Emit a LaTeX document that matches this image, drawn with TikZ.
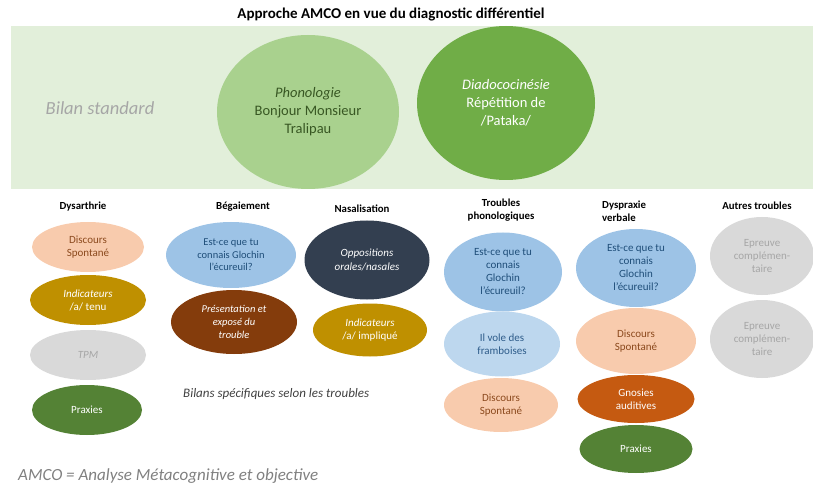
\documentclass[tikz,border=0pt]{standalone}
\usepackage{fontspec}
\setmainfont{Carlito}
\usetikzlibrary{shapes.geometric}

\definecolor{bandgreen}{HTML}{E2EFDA}
\definecolor{palegreen}{HTML}{A9D18E}
\definecolor{palegreentext}{HTML}{385723}
\definecolor{midgreen}{HTML}{70AD47}
\definecolor{darkgreen}{HTML}{548235}
\definecolor{peach}{HTML}{F8CBAD}
\definecolor{peachtext}{HTML}{8C4A1E}
\definecolor{gold}{HTML}{BF9000}
\definecolor{lightgrey}{HTML}{D9D9D9}
\definecolor{greytext}{HTML}{A6A6A6}
\definecolor{skyblue}{HTML}{9DC3E6}
\definecolor{skybluetext}{HTML}{1F4E79}
\definecolor{paleblue}{HTML}{BDD7EE}
\definecolor{palebluetext}{HTML}{2E5C8A}
\definecolor{rust}{HTML}{843C0C}
\definecolor{navy}{HTML}{333F50}
\definecolor{burnt}{HTML}{C55A11}

\begin{document}
\begin{tikzpicture}[
  x=1pt, y=-1pt,
  every node/.style={inner sep=0pt},
  wh/.style 2 args={minimum width=#1pt, minimum height=#2pt},
  blob/.style={ellipse, align=center, font=\fontsize{11}{13}\selectfont},
  bigblob/.style={ellipse, align=center, font=\fontsize{14.5}{18}\selectfont},
  head/.style={align=center, font=\bfseries\fontsize{10.8}{13}\selectfont}
  ]
  \useasboundingbox (0,0) rectangle (813,486);

  \node[font=\bfseries\fontsize{15}{17}\selectfont] (title) at (391,15) {Approche AMCO en vue du diagnostic différentiel};

  \fill[bandgreen] (11,26) rectangle (813,189);
  \node[font=\itshape\fontsize{18.5}{22}\selectfont, text=greytext] (standard) at (100,108) {Bilan standard};
  \node[bigblob, wh={182}{154}, fill=palegreen, text=palegreentext] (phono) at (308,112) {\textit{Phonologie}\\Bonjour Monsieur\\Tralipau};
  \node[bigblob, wh={178}{154}, fill=midgreen, text=white] (diado) at (506,103) {\textit{Diadococinésie}\\Répétition de\\/Pataka/};

  \node[head] (dysarthrie) at (83,207) {Dysarthrie};
  \node[head] (begaiement) at (243,207) {Bégaiement};
  \node[head] (nasal) at (362,209) {Nasalisation};
  \node[head] (troubles) at (501,210) {Troubles\\phonologiques};
  \node[head, align=left, anchor=west] (dyspraxie) at (602,211) {Dyspraxie\\verbale};
  \node[head] (autres) at (757,206) {Autres troubles};

  \node[blob, wh={112}{50}, fill=peach, text=peachtext] (dys1) at (88,247) {Discours\\Spontané};
  \node[blob, wh={116}{50}, fill=gold, text=white] (dys2) at (88,300) {\textit{Indicateurs}\\/a/ tenu};
  \node[blob, wh={116}{50}, fill=lightgrey, text=greytext] (dys3) at (88,355) {\textit{TPM}};
  \node[blob, wh={110}{50}, fill=darkgreen, text=white] (dys4) at (87,410) {Praxies};

  \node[blob, wh={130}{66}, fill=skyblue, text=skybluetext, font=\fontsize{10.5}{12.5}\selectfont] (beg1) at (231,255) {Est-ce que tu\\connais Glochin\\l’écureuil?};
  \node[blob, wh={126}{64}, fill=rust, text=white, font=\itshape\fontsize{10.5}{13}\selectfont] (beg2) at (234,322) {Présentation et\\exposé du\\trouble};

  \node[blob, wh={125}{79}, fill=navy, text=white, font=\itshape\fontsize{11}{14}\selectfont] (nas1) at (367,260) {Oppositions\\orales/nasales};
  \node[blob, wh={114}{53}, fill=gold, text=white] (nas2) at (370,330) {\textit{Indicateurs}\\/a/ impliqué};

  \node[blob, wh={118}{79}, fill=skyblue, text=skybluetext] (tph1) at (503,272) {Est-ce que tu\\connais\\Glochin\\l’écureuil?};
  \node[blob, wh={116}{65}, fill=paleblue, text=palebluetext] (tph2) at (502,344) {Il vole des\\framboises};
  \node[blob, wh={114}{54}, fill=peach, text=peachtext] (tph3) at (501,405) {Discours\\Spontané};

  \node[blob, wh={120}{78}, fill=skyblue, text=skybluetext] (dvb1) at (636,268) {Est-ce que tu\\connais\\Glochin\\l’écureuil?};
  \node[blob, wh={120}{66}, fill=peach, text=peachtext] (dvb2) at (636,341) {Discours\\Spontané};
  \node[blob, wh={117}{48}, fill=burnt, text=white] (dvb3) at (636,399) {Gnosies\\auditives};
  \node[blob, wh={113}{48}, fill=darkgreen, text=white] (dvb4) at (636,449) {Praxies};

  \node[blob, wh={104}{78}, fill=lightgrey, text=greytext] (aut1) at (762,256) {Epreuve\\complémen-\\taire};
  \node[blob, wh={104}{78}, fill=lightgrey, text=greytext] (aut2) at (762,339) {Epreuve\\complémen-\\taire};

  \node[anchor=west, font=\itshape\fontsize{13}{15}\selectfont, text=black!75] (specifiques) at (183,394) {Bilans spécifiques selon les troubles};
  \node[anchor=west, font=\itshape\fontsize{17}{20}\selectfont, text=black!50] (legende) at (18,476) {AMCO = Analyse Métacognitive et objective};
\end{tikzpicture}
\end{document}
